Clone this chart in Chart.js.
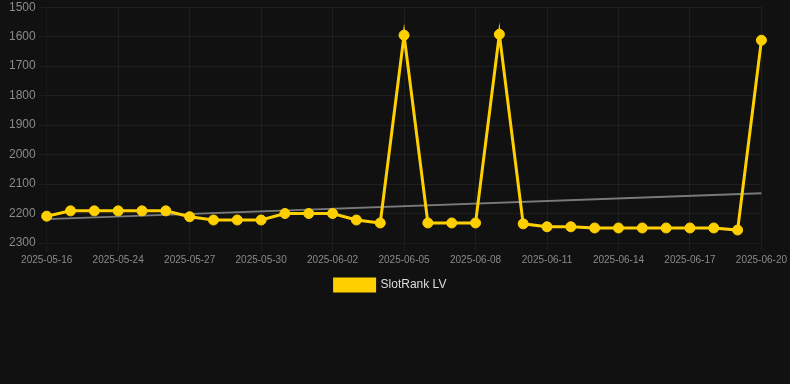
<!DOCTYPE html>
<html>
<head>
<meta charset="utf-8">
<script src="https://cdn.jsdelivr.net/npm/chart.js@4.4.1/dist/chart.umd.min.js"></script>
<style>
  html, body { margin: 0; padding: 0; background: #111111; }
  #wrap { width: 790px; height: 384px; }
</style>
</head>
<body>
<div id="wrap"><canvas id="c" width="790" height="384"></canvas></div>
<script>
const categories = [
  "2025-05-16", "2025-05-22", "2025-05-23", "2025-05-24", "2025-05-25", "2025-05-26",
  "2025-05-27", "2025-05-28", "2025-05-29", "2025-05-30", "2025-05-31", "2025-06-01",
  "2025-06-02", "2025-06-03", "2025-06-04", "2025-06-05", "2025-06-06", "2025-06-07",
  "2025-06-08", "2025-06-09", "2025-06-10", "2025-06-11", "2025-06-12", "2025-06-13",
  "2025-06-14", "2025-06-15", "2025-06-16", "2025-06-17", "2025-06-18", "2025-06-19",
  "2025-06-20"
];
const rankValues = [
  2209, 2191, 2191, 2191, 2191, 2191,
  2211, 2222, 2222, 2222, 2200, 2200,
  2200, 2222, 2232, 1595, 2232, 2232,
  2232, 1592, 2235, 2245, 2245, 2249,
  2249, 2249, 2249, 2249, 2249, 2256,
  1612
];
const trendStart = 2219;
const trendEnd = 2131;
const yTicks = [1500, 1600, 1700, 1800, 1900, 2000, 2100, 2200, 2300];

const trendData = categories.map((_, i) =>
  i === 0 ? trendStart : (i === categories.length - 1 ? trendEnd : null));

const legendShift = {
  id: 'legendShift',
  afterLayout(chart) {
    const l = chart.legend;
    if (l) { l.left -= 6; l.right -= 6; }
  }
};

new Chart(document.getElementById('c'), {
  type: 'line',
  data: {
    labels: categories,
    datasets: [
      {
        label: 'SlotRank LV',
        data: rankValues,
        borderColor: '#FFD000',
        backgroundColor: '#FFD000',
        borderWidth: 3,
        pointRadius: 5,
        pointBorderWidth: 1,
        pointBackgroundColor: '#FFD000',
        pointBorderColor: '#FFD000',
        tension: 0,
        order: 1
      },
      {
        label: 'trend',
        data: trendData,
        spanGaps: true,
        borderColor: '#7a7a7a',
        borderWidth: 2,
        pointRadius: 0,
        pointHoverRadius: 0,
        fill: false,
        order: 2
      }
    ]
  },
  plugins: [legendShift],
  options: {
    responsive: false,
    animation: false,
    maintainAspectRatio: false,
    layout: { padding: { left: 6, right: 3, top: 0, bottom: 83 } },
    plugins: {
      legend: {
        position: 'bottom',
        labels: {
          color: '#dddddd',
          font: { size: 12 },
          boxWidth: 40,
          boxHeight: 12,
          filter: (item) => item.text !== 'trend'
        }
      },
      tooltip: { enabled: false }
    },
    scales: {
      x: {
        grid: { color: 'rgba(255,255,255,0.055)' },
        ticks: {
          color: '#8a8a8a',
          font: { size: 10 },
          maxRotation: 0,
          autoSkip: false,
          callback: function(val, idx) {
            return (idx === 0 || idx % 3 === 0) ? categories[idx] : null;
          }
        }
      },
      y: {
        reverse: true,
        min: yTicks[0],
        max: yTicks[yTicks.length - 1],
        grid: { color: 'rgba(255,255,255,0.055)' },
        afterBuildTicks: (axis) => { axis.ticks = yTicks.map(v => ({ value: v })); },
        ticks: {
          color: '#8a8a8a',
          font: { size: 12, lineHeight: 0.7 },
          callback: (v) => String(v)
        }
      }
    }
  }
});
</script>
</body>
</html>
